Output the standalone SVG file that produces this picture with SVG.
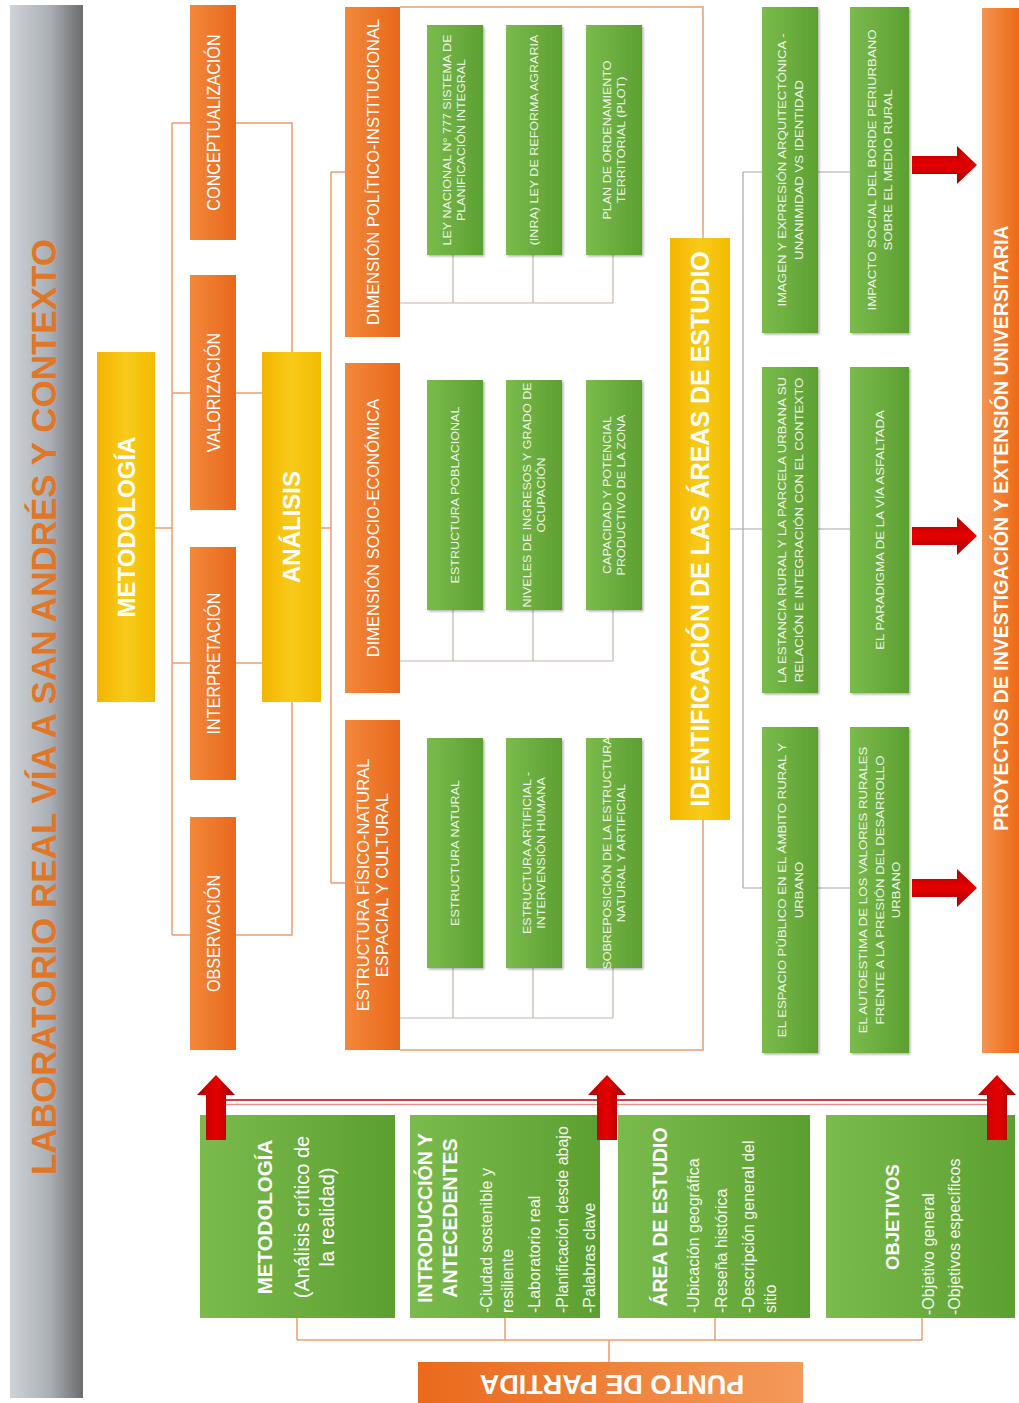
<svg xmlns="http://www.w3.org/2000/svg" width="1019" height="1403" viewBox="0 0 1019 1403">
<defs>
<linearGradient id="gTitle" x1="0" y1="0" x2="1" y2="0"><stop offset="0" stop-color="#cfd3d7"/><stop offset="0.55" stop-color="#a9afb5"/><stop offset="1" stop-color="#6b6b6b"/></linearGradient>
<linearGradient id="gYel" x1="0" y1="0" x2="1" y2="0"><stop offset="0" stop-color="#f4b400"/><stop offset="0.5" stop-color="#f8cb1a"/><stop offset="1" stop-color="#f2bb00"/></linearGradient>
<linearGradient id="gOr" x1="0" y1="0" x2="1" y2="0"><stop offset="0" stop-color="#f3883a"/><stop offset="1" stop-color="#e8681c"/></linearGradient>
<linearGradient id="gOrP" x1="0" y1="0" x2="1" y2="0"><stop offset="0" stop-color="#f39450"/><stop offset="0.6" stop-color="#f07a2a"/><stop offset="1" stop-color="#ec6a18"/></linearGradient>
<linearGradient id="gOrB" x1="0" y1="0" x2="1" y2="0"><stop offset="0" stop-color="#ea6a1c"/><stop offset="1" stop-color="#f39a5a"/></linearGradient>
<linearGradient id="gGr" x1="0" y1="0" x2="1" y2="0"><stop offset="0" stop-color="#7bbb4d"/><stop offset="1" stop-color="#5c9f31"/></linearGradient>
<linearGradient id="gRedH" x1="0" y1="0" x2="0" y2="1"><stop offset="0" stop-color="#b00000"/><stop offset="0.5" stop-color="#e60000"/><stop offset="1" stop-color="#a00000"/></linearGradient>
<linearGradient id="gRedV" x1="0" y1="0" x2="1" y2="0"><stop offset="0" stop-color="#b00000"/><stop offset="0.5" stop-color="#e60000"/><stop offset="1" stop-color="#a00000"/></linearGradient>
<filter id="sh" x="-10%" y="-10%" width="130%" height="130%"><feDropShadow dx="1.5" dy="1.5" stdDeviation="1.2" flood-color="#000" flood-opacity="0.3"/></filter>
</defs>
<style>
text{font-family:"Liberation Sans",Arial,sans-serif;text-anchor:middle}
.title{font-weight:bold;font-size:35px;fill:#e07628}
.ty{font-weight:bold;font-size:24px;fill:#fff}
.tm{font-size:18px;fill:#fff}
.td{font-size:16.5px;fill:#fff}
.tg{font-size:11px;fill:#eef6e6}
.tr{font-size:11.5px;fill:#eef6e6}
.tb{font-weight:bold;font-size:19.5px;fill:#fff}
.tbl{font-size:16px;fill:#f2f8ec;text-anchor:start}
.tbig{font-size:20px;fill:#fff}
.yel{fill:url(#gYel)}
.or{fill:url(#gOr)}
.gr{fill:url(#gGr)}
.grs{fill:url(#gGr);filter:url(#sh)}
.ln{fill:none;stroke:#ee9d72;stroke-width:1.5}
.lg{fill:none;stroke:#c8b4aa;stroke-width:1.2}
.lr{fill:none;stroke:#a8a8a8;stroke-width:1.2}
.arH{fill:url(#gRedH)}
.arV{fill:url(#gRedV)}
</style>
<rect width="1019" height="1403" fill="#fff"/>

<g id="connectors">
<!-- method bracket -->
<path class="ln" d="M172,123 V935 M172,123 H292 V352 M172,393 H262 M172,663 H262 M172,935 H292 V702 M155,528 H172"/>
<!-- analysis bracket -->
<path class="ln" d="M321,528 H331 M331,172 V883 M331,172 H345 M331,883 H345"/>
<!-- big frame -->
<path class="ln" d="M400,7 H703 V238 M703,820 V1050 H400"/>
<!-- green sub connectors -->
<path class="lg" d="M400,303 H613 M453,255 V303 M533,255 V303 M613,255 V303"/>
<path class="lg" d="M400,661 H613 M453,610 V661 M533,610 V661 M613,610 V661"/>
<path class="lg" d="M400,1018 H613 M453,968 V1018 M533,968 V1018 M613,968 V1018"/>
<!-- identification connectors -->
<path class="lr" d="M730,529 H850 M743,172 V888 M743,172 H850 M743,888 H850"/>
<!-- bottom connectors -->
<path class="ln" d="M297,1340 H922 M297,1318 V1340 M505,1318 V1340 M715,1318 V1340 M922,1318 V1340 M609,1340 V1362"/>
<!-- red lines -->
<path d="M216,1100 H997" stroke="#c00000" stroke-width="1.6" fill="none"/>
<path d="M216,1104.5 H997" stroke="#e59090" stroke-width="1.6" fill="none"/>
</g>

<g id="title">
<rect x="10" y="5" width="73" height="1393" fill="url(#gTitle)"/>
<text class="title" transform="translate(56,707) rotate(-90)">LABORATORIO REAL VÍA A SAN ANDRÉS Y CONTEXTO</text>
</g>

<g id="metodologia">
<rect class="yel" x="97" y="352" width="58" height="350"/>
<text class="ty" transform="translate(134.5,527) rotate(-90)">METODOLOGÍA</text>
</g>
<g id="analisis">
<rect class="yel" x="262" y="352" width="59" height="350"/>
<text class="ty" transform="translate(300,527) rotate(-90)">ANÁLISIS</text>
</g>

<g id="conceptualizacion"><rect class="or" x="190" y="5" width="46" height="235"/><text class="tm" transform="translate(219.5,122.5) rotate(-90) scale(0.9,1)">CONCEPTUALIZACIÓN</text></g>
<g id="valorizacion"><rect class="or" x="190" y="275" width="46" height="235"/><text class="tm" transform="translate(219.5,392.5) rotate(-90) scale(0.9,1)">VALORIZACIÓN</text></g>
<g id="interpretacion"><rect class="or" x="190" y="547" width="46" height="233"/><text class="tm" transform="translate(219.5,663.5) rotate(-90) scale(0.9,1)">INTERPRETACIÓN</text></g>
<g id="observacion"><rect class="or" x="190" y="817" width="46" height="233"/><text class="tm" transform="translate(219.5,933.5) rotate(-90) scale(0.9,1)">OBSERVACIÓN</text></g>

<g id="dim-politico"><rect class="or" x="345" y="7" width="55" height="330"/><text class="td" transform="translate(378.5,172) rotate(-90)">DIMENSIÓN POLÍTICO-INSTITUCIONAL</text></g>
<g id="dim-socio"><rect class="or" x="345" y="363" width="55" height="330"/><text class="td" transform="translate(378.5,528) rotate(-90)">DIMENSIÓN SOCIO-ECONÓMICA</text></g>
<g id="dim-estructura"><rect class="or" x="345" y="720" width="55" height="330"/><text class="td" transform="translate(369,885) rotate(-90)">ESTRUCTURA FÍSICO-NATURAL</text><text class="td" transform="translate(388,885) rotate(-90)">ESPACIAL Y CULTURAL</text></g>

<g id="ley777"><rect class="grs" x="427" y="25" width="56" height="230"/><text class="tg" transform="translate(451,140) rotate(-90) scale(1.14,1)">LEY NACIONAL N° 777 SISTEMA DE</text><text class="tg" transform="translate(465,140) rotate(-90) scale(1.14,1)">PLANIFICACIÓN INTEGRAL</text></g>
<g id="inra"><rect class="grs" x="506" y="25" width="56" height="230"/><text class="tg" transform="translate(538,140) rotate(-90) scale(1.14,1)">(INRA) LEY DE REFORMA AGRARIA</text></g>
<g id="plot"><rect class="grs" x="586" y="25" width="56" height="230"/><text class="tg" transform="translate(611,140) rotate(-90) scale(1.14,1)">PLAN DE ORDENAMIENTO</text><text class="tg" transform="translate(625,140) rotate(-90) scale(1.14,1)">TERRITORIAL (PLOT)</text></g>

<g id="poblacional"><rect class="grs" x="427" y="380" width="56" height="230"/><text class="tg" transform="translate(459,495) rotate(-90) scale(1.14,1)">ESTRUCTURA POBLACIONAL</text></g>
<g id="ingresos"><rect class="grs" x="506" y="380" width="56" height="230"/><text class="tg" transform="translate(531,495) rotate(-90) scale(1.14,1)">NIVELES DE INGRESOS Y GRADO DE</text><text class="tg" transform="translate(545,495) rotate(-90) scale(1.14,1)">OCUPACIÓN</text></g>
<g id="capacidad"><rect class="grs" x="586" y="380" width="56" height="230"/><text class="tg" transform="translate(611,495) rotate(-90) scale(1.14,1)">CAPACIDAD Y POTENCIAL</text><text class="tg" transform="translate(625,495) rotate(-90) scale(1.14,1)">PRODUCTIVO DE LA ZONA</text></g>

<g id="natural"><rect class="grs" x="427" y="738" width="56" height="230"/><text class="tg" transform="translate(459,853) rotate(-90) scale(1.14,1)">ESTRUCTURA NATURAL</text></g>
<g id="artificial"><rect class="grs" x="506" y="738" width="56" height="230"/><text class="tg" transform="translate(531,853) rotate(-90) scale(1.14,1)">ESTRUCTURA ARTIFICIAL -</text><text class="tg" transform="translate(545,853) rotate(-90) scale(1.14,1)">INTERVENSIÓN HUMANA</text></g>
<g id="sobreposicion"><rect class="grs" x="586" y="738" width="56" height="230"/><text class="tg" transform="translate(611,853) rotate(-90) scale(1.14,1)">SOBREPOSICIÓN DE LA ESTRUCTURA</text><text class="tg" transform="translate(625,853) rotate(-90) scale(1.14,1)">NATURAL Y ARTIFICIAL</text></g>

<g id="identificacion"><rect class="yel" x="670" y="238" width="60" height="582"/><text class="ty" style="font-size:25px" transform="translate(709,529) rotate(-90)">IDENTIFICACIÓN DE LAS ÁREAS DE ESTUDIO</text></g>

<g id="imagen"><rect class="grs" x="762" y="7" width="56" height="326"/><text class="tr" transform="translate(786,170) rotate(-90) scale(1.15,1)">IMAGEN Y EXPRESIÓN ARQUITECTÓNICA -</text><text class="tr" transform="translate(802.5,170) rotate(-90) scale(1.15,1)">UNANIMIDAD VS IDENTIDAD</text></g>
<g id="impacto"><rect class="grs" x="850" y="7" width="59" height="326"/><text class="tr" transform="translate(875.5,170) rotate(-90) scale(1.15,1)">IMPACTO SOCIAL DEL BORDE PERIURBANO</text><text class="tr" transform="translate(892,170) rotate(-90) scale(1.15,1)">SOBRE EL MEDIO RURAL</text></g>
<g id="estancia"><rect class="grs" x="762" y="367" width="56" height="326"/><text class="tr" transform="translate(786,530) rotate(-90) scale(1.15,1)">LA ESTANCIA RURAL Y LA PARCELA URBANA SU</text><text class="tr" transform="translate(802.5,530) rotate(-90) scale(1.15,1)">RELACIÓN E INTEGRACIÓN CON EL CONTEXTO</text></g>
<g id="paradigma"><rect class="grs" x="850" y="367" width="59" height="326"/><text class="tr" transform="translate(883.5,530) rotate(-90) scale(1.15,1)">EL PARADIGMA DE LA VÍA ASFALTADA</text></g>
<g id="espacio"><rect class="grs" x="762" y="727" width="56" height="326"/><text class="tr" transform="translate(786,890) rotate(-90) scale(1.15,1)">EL ESPACIO PÚBLICO EN EL ÁMBITO RURAL Y</text><text class="tr" transform="translate(802.5,890) rotate(-90) scale(1.15,1)">URBANO</text></g>
<g id="autoestima"><rect class="grs" x="850" y="727" width="59" height="326"/><text class="tr" transform="translate(867,890) rotate(-90) scale(1.15,1)">EL AUTOESTIMA DE LOS VALORES RURALES</text><text class="tr" transform="translate(883.5,890) rotate(-90) scale(1.15,1)">FRENTE A LA PRESIÓN DEL DESARROLLO</text><text class="tr" transform="translate(900,890) rotate(-90) scale(1.15,1)">URBANO</text></g>

<g id="proyectos"><rect fill="url(#gOrP)" x="982" y="8" width="37" height="1045"/><text class="tb" transform="translate(1007.5,528) rotate(-90)">PROYECTOS DE INVESTIGACIÓN Y EXTENSIÓN UNIVERSITARIA</text></g>

<g id="b-metodologia"><rect class="gr" x="200" y="1115" width="195" height="203"/>
<text class="tbig" style="font-weight:bold;font-size:20.5px" transform="translate(272,1217) rotate(-90)">METODOLOGÍA</text>
<text class="tbig" transform="translate(309,1217) rotate(-90)">(Análisis crítico de</text>
<text class="tbig" transform="translate(334,1217) rotate(-90)">la realidad)</text></g>
<g id="b-introduccion"><rect class="gr" x="410" y="1115" width="190" height="203"/>
<text class="tb" transform="translate(432,1218) rotate(-90)">INTRODUCCIÓN Y</text>
<text class="tb" transform="translate(457,1218) rotate(-90)">ANTECEDENTES</text>
<text class="tbl" transform="translate(492,1313) rotate(-90)">-Ciudad sostenible y</text>
<text class="tbl" transform="translate(513,1313) rotate(-90)">resiliente</text>
<text class="tbl" transform="translate(540,1313) rotate(-90)">-Laboratorio real</text>
<text class="tbl" transform="translate(568,1313) rotate(-90)">-Planificación desde abajo</text>
<text class="tbl" transform="translate(595,1313) rotate(-90)">-Palabras clave</text></g>
<g id="b-area"><rect class="gr" x="618" y="1115" width="192" height="203"/>
<text class="tb" transform="translate(667,1217) rotate(-90)">ÁREA DE ESTUDIO</text>
<text class="tbl" transform="translate(699,1313) rotate(-90)">-Ubicación geográfica</text>
<text class="tbl" transform="translate(727,1313) rotate(-90)">-Reseña histórica</text>
<text class="tbl" transform="translate(754,1313) rotate(-90)">-Descripción general del</text>
<text class="tbl" transform="translate(776,1313) rotate(-90)">sitio</text></g>
<g id="b-objetivos"><rect class="gr" x="826" y="1115" width="189" height="203"/>
<text class="tb" style="font-size:18.5px" transform="translate(899,1217) rotate(-90)">OBJETIVOS</text>
<text class="tbl" transform="translate(934,1315) rotate(-90)">-Objetivo general</text>
<text class="tbl" transform="translate(960,1315) rotate(-90)">-Objetivos específicos</text></g>

<g id="punto-de-partida"><rect fill="url(#gOrB)" x="418" y="1362" width="385" height="41"/>
<text class="tb" style="font-size:27px" transform="translate(612,1375) rotate(180)">PUNTO DE PARTIDA</text></g>

<g id="arrows">
<path class="arH" d="M912,156 H957 V146 L977,165 L957,184 V174 H912 Z"/>
<path class="arH" d="M912,527 H957 V517 L977,536 L957,555 V545 H912 Z"/>
<path class="arH" d="M912,879 H957 V869 L977,888 L957,907 V897 H912 Z"/>
<path class="arV" d="M206,1140 V1095 H197 L216,1075 L235,1095 H226 V1140 Z"/>
<path class="arV" d="M597,1140 V1095 H588 L607,1075 L626,1095 H617 V1140 Z"/>
<path class="arV" d="M987,1140 V1095 H978 L997,1075 L1016,1095 H1007 V1140 Z"/>
</g>
</svg>
